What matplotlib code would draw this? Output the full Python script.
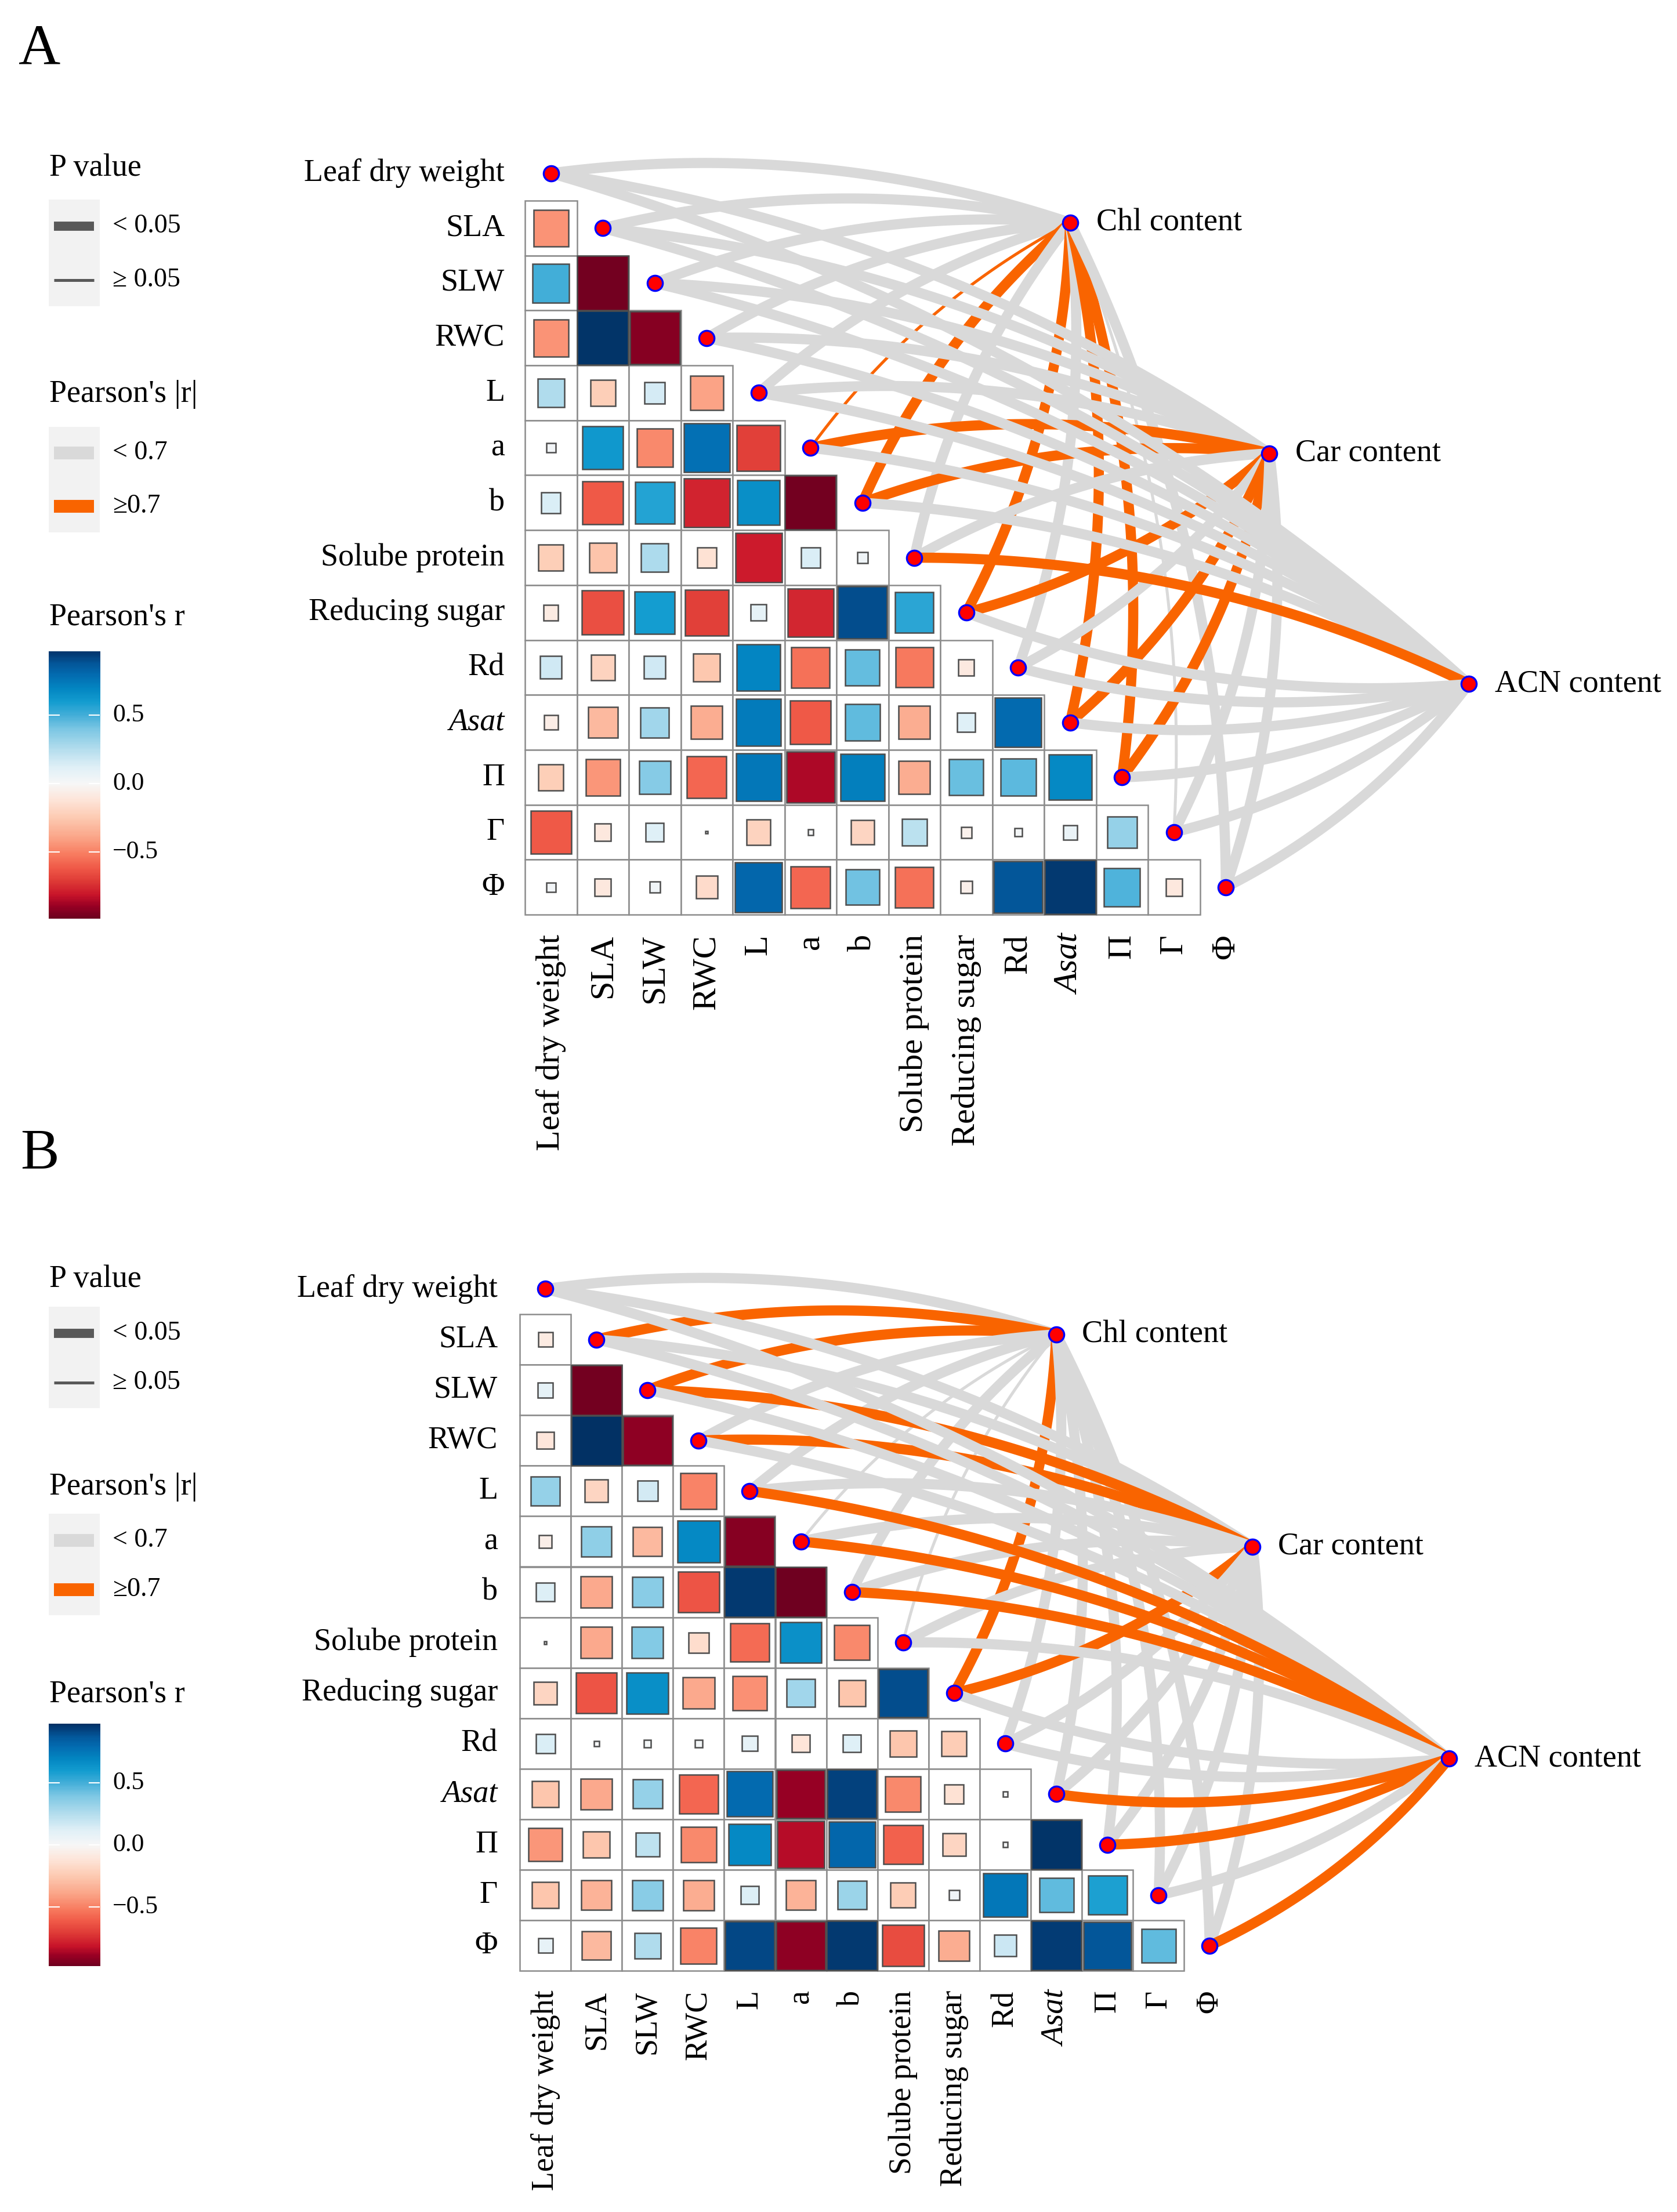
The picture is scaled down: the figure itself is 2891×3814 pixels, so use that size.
import numpy as np
import matplotlib
matplotlib.use("Agg")
import matplotlib.pyplot as plt
from matplotlib.colors import LinearSegmentedColormap, Normalize
from matplotlib.patches import Rectangle

plt.rcParams['font.family'] = ['Liberation Serif', 'DejaVu Serif']

# ---------------- data ----------------
variables = ["Leaf dry weight", "SLA", "SLW", "RWC", "L", "a", "b",
             "Solube protein", "Reducing sugar", "Rd", "Asat", "Π", "Γ", "Φ"]
italic_vars = ["Asat"]
env_nodes = ["Chl content", "Car content", "ACN content"]

# lower-triangle Pearson r (row i = variables[i], columns 0..i-1)
A_r = [
    [-0.45],
    [0.50, -0.97],
    [-0.45, 0.97, -0.93],
    [0.26, -0.23, 0.15, -0.40],
    [0.03, 0.62, -0.48, 0.78, -0.70],
    [0.14, -0.62, 0.57, -0.78, 0.66, -0.97],
    [-0.23, -0.28, 0.27, -0.14, -0.80, 0.14, 0.04],
    [-0.08, -0.65, 0.60, -0.70, 0.09, -0.77, 0.90, 0.55],
    [0.17, -0.21, 0.17, -0.26, 0.70, -0.55, 0.44, -0.53, -0.09],
    [-0.07, -0.32, 0.30, -0.36, 0.74, -0.62, 0.45, -0.36, 0.12, 0.80],
    [-0.23, -0.44, 0.37, -0.58, 0.75, -0.86, 0.72, -0.36, 0.43, 0.46, 0.68],
    [-0.62, -0.10, 0.12, 0.002, -0.21, 0.01, -0.20, 0.23, -0.04, 0.02, 0.07, 0.33],
    [0.03, -0.10, 0.04, -0.17, 0.82, -0.58, 0.42, -0.55, -0.05, 0.88, 0.96, 0.48, -0.10],
]
B_r = [
    [-0.08],
    [0.09, -0.97],
    [-0.11, 0.98, -0.92],
    [0.33, -0.20, 0.16, -0.50],
    [-0.06, 0.35, -0.32, 0.68, -0.93],
    [0.13, -0.38, 0.36, -0.64, 0.96, -0.98],
    [0.003, -0.38, 0.38, -0.16, -0.57, 0.65, -0.48],
    [-0.20, -0.64, 0.66, -0.38, -0.46, 0.30, -0.27, 0.90],
    [0.14, 0.01, 0.02, 0.02, 0.09, -0.12, 0.12, -0.27, -0.24],
    [-0.27, -0.38, 0.33, -0.58, 0.80, -0.90, 0.93, -0.48, -0.14, 0.01],
    [-0.44, -0.27, 0.22, -0.48, 0.68, -0.85, 0.82, -0.60, -0.20, 0.01, 0.97],
    [-0.27, -0.34, 0.36, -0.36, 0.13, -0.34, 0.32, -0.24, 0.04, 0.75, 0.45, 0.58],
    [0.08, -0.32, 0.26, -0.50, 0.92, -0.92, 0.96, -0.66, -0.36, 0.18, 0.95, 0.88, 0.45],
]

# links env -> variable : |r| >= 0.7 (1) or < 0.7 (0); p < 0.05 (1) or >= 0.05 (0)
A_chl_strong = [0, 0, 0, 0, 0, 1, 1, 0, 1, 0, 1, 1, 0, 0]
A_car_strong = [0, 0, 0, 0, 0, 1, 1, 0, 1, 0, 1, 1, 0, 0]
A_acn_strong = [0, 0, 0, 0, 0, 0, 0, 1, 0, 0, 0, 0, 0, 0]
A_chl_sig = [1, 1, 1, 1, 1, 0, 1, 1, 1, 1, 1, 1, 0, 1]
A_car_sig = [1] * 14
A_acn_sig = [1] * 14

B_chl_strong = [0, 1, 1, 0, 0, 0, 0, 0, 1, 0, 0, 0, 0, 0]
B_car_strong = [0, 0, 1, 1, 0, 0, 0, 0, 1, 0, 0, 0, 0, 0]
B_acn_strong = [0, 0, 0, 0, 1, 1, 1, 0, 0, 0, 1, 1, 0, 1]
B_chl_sig = [1, 1, 1, 1, 1, 0, 1, 0, 1, 1, 1, 1, 1, 1]
B_car_sig = [1] * 14
B_acn_sig = [1] * 14

p_labels = ["< 0.05", "≥ 0.05"]
r_labels = ["< 0.7", "≥0.7"]
cbar_ticks = [-0.5, 0.0, 0.5]
cbar_ticklabels = ["−0.5", "0.0", "0.5"]

# ---------------- style ----------------
W, H = 2891, 3814
DPI = 300
fig = plt.figure(figsize=(W / DPI, H / DPI), dpi=DPI)

cmap_nodes = [(-1.0, '#67001F'), (-0.9, '#990024'), (-0.82, '#C8142A'),
              (-0.72, '#DE3A36'), (-0.62, '#F05A48'), (-0.52, '#F87C60'),
              (-0.4, '#FBA487'), (-0.25, '#FDCBB3'), (-0.12, '#FEE5D9'),
              (0.0, '#F7F7F7'), (0.12, '#E0F0F7'), (0.25, '#B5DEEE'),
              (0.4, '#7CC7E4'), (0.5, '#45AFD9'), (0.6, '#149DD0'),
              (0.7, '#0386C2'), (0.8, '#036BB0'), (0.88, '#03579A'),
              (0.95, '#033C76'), (1.0, '#022C5C')]
cmap = LinearSegmentedColormap.from_list(
    "rb", [((v + 1) / 2, c) for v, c in cmap_nodes])
norm = Normalize(-1, 1)

GREY = '#D9D9D9'
ORANGE = '#F96400'
THICK, THIN = 4.2, 1.2


def fig_rect(left, top, right, bottom):
    return [left / W, 1 - bottom / H, (right - left) / W, (bottom - top) / H]


def bezier(p0, p1, side, cw, ch, k=0.115, npts=80):
    P0 = np.array([p0[0] * cw, p0[1] * ch])
    P1 = np.array([p1[0] * cw, p1[1] * ch])
    v = P1 - P0
    L = np.hypot(v[0], v[1])
    nr = np.array([-v[1], v[0]]) / L
    C = (P0 + P1) / 2 + side * k * L * nr
    t = np.linspace(0, 1, npts)[:, None]
    B = (1 - t) ** 2 * P0 + 2 * (1 - t) * t * C + t ** 2 * P1
    return B[:, 0] / cw, B[:, 1] / ch


env_pos = [(10.0, 0.9), (13.84, 5.1), (17.68, 9.3)]


def draw_panel(r_rows, strong, sig, lay):
    cw, ch, x0, y0 = lay['cw'], lay['ch'], lay['x0'], lay['y0']
    xmin, xmax, ymin, ymax = -1, 19.5, -1, 14
    ax = fig.add_axes(fig_rect(x0 + xmin * cw, y0 + ymin * ch,
                               x0 + xmax * cw, y0 + ymax * ch))
    ax.set_xlim(xmin, xmax)
    ax.set_ylim(ymax, ymin)
    ax.axis('off')
    n = len(variables)
    for i in range(1, n):
        for j in range(i):
            ax.add_patch(Rectangle((j - 0.5, i - 0.5), 1, 1, facecolor='white',
                                   edgecolor='#8C8C8C', lw=0.6, zorder=1))
    for i, row in enumerate(r_rows, start=1):
        for j, r in enumerate(row):
            s = np.sqrt(abs(r))
            ax.add_patch(Rectangle((j - s / 2, i - s / 2), s, s,
                                   facecolor=cmap(norm(r)), edgecolor='#4D4D4D',
                                   lw=0.6, zorder=2))
    for i, v in enumerate(variables):
        st = 'italic' if v in italic_vars else 'normal'
        ax.text(lay['rowlab_x'], i, v, ha='right', va='center', fontsize=13,
                fontstyle=st)
        ax.text(i, lay['collab_y'], v, ha='center', va='top', rotation=90,
                fontsize=lay['collab_fs'], fontstyle=st)
    z = 3
    for e, (ex, ey) in enumerate(env_pos):
        for kk in range(n):
            side = 1 if kk <= 7 else -1
            xs, ys = bezier((ex, ey), (kk, kk), side, cw, ch)
            col = ORANGE if strong[e][kk] else GREY
            lw = THICK if sig[e][kk] else THIN
            ax.plot(xs, ys, color=col, lw=lw, solid_capstyle='butt',
                    zorder=z, clip_on=False)
            z += 0.01
    dx = [kk for kk in range(n)]
    ax.plot(dx, dx, 'o', ms=6.3, mfc='#FF0000', mec='#0000FF', mew=0.8,
            zorder=10, clip_on=False)
    ax.plot([p[0] for p in env_pos], [p[1] for p in env_pos], 'o', ms=6.3,
            mfc='#FF0000', mec='#0000FF', mew=0.8, zorder=10, clip_on=False)
    for name, (ex, ey) in zip(env_nodes, env_pos):
        ax.text(ex + 0.5, ey, name, ha='left', va='center', fontsize=13,
                zorder=11)


layA = dict(cw=89.5, ch=94.7, x0=949.75, y0=298.65, rowlab_x=-0.89,
            collab_y=13.86, collab_fs=14)
layB = dict(cw=88.1, ch=87.1, x0=940.05, y0=2222.45, rowlab_x=-0.93,
            collab_y=13.88, collab_fs=13)

draw_panel(A_r, [A_chl_strong, A_car_strong, A_acn_strong],
           [A_chl_sig, A_car_sig, A_acn_sig], layA)
draw_panel(B_r, [B_chl_strong, B_car_strong, B_acn_strong],
           [B_chl_sig, B_car_sig, B_acn_sig], layB)

# ---------------- legends (pixel overlay) ----------------
ov = fig.add_axes([0, 0, 1, 1], zorder=-1)
ov.set_xlim(0, W)
ov.set_ylim(H, 0)
ov.axis('off')

ov.text(32, 111, "A", fontsize=24, ha='left', va='baseline')
ov.text(35, 2014, "B", fontsize=24, ha='left', va='baseline')

legA = dict(p_t=290, p_box=(344, 528), p_y=(390, 483),
            r_t=680, r_box=(736, 918), r_y=(781, 873),
            c_t=1064, bar=(1123, 1584), lim=(-0.987, 0.966))
legB = dict(p_t=2206, p_box=(2253, 2428), p_y=(2299, 2384),
            r_t=2564, r_box=(2610, 2785), r_y=(2656, 2741),
            c_t=2921, bar=(2972, 3390), lim=(-0.977, 0.977))

for lg in (legA, legB):
    ov.text(85, lg['p_t'], "P value", fontsize=13, ha='left', va='center')
    ov.add_patch(Rectangle((84, lg['p_box'][0]), 88, lg['p_box'][1] - lg['p_box'][0],
                           facecolor='#F2F2F2', edgecolor='none'))
    ov.plot([93, 162], [lg['p_y'][0]] * 2, color='#595959', lw=3.8, solid_capstyle='butt')
    ov.plot([93, 162], [lg['p_y'][1]] * 2, color='#595959', lw=1.2, solid_capstyle='butt')
    for yy, lab in zip(lg['p_y'], p_labels):
        ov.text(194, yy, lab, fontsize=11, ha='left', va='center')

    ov.text(85, lg['r_t'], "Pearson's |r|", fontsize=13, ha='left', va='center')
    ov.add_patch(Rectangle((84, lg['r_box'][0]), 88, lg['r_box'][1] - lg['r_box'][0],
                           facecolor='#F2F2F2', edgecolor='none'))
    ov.plot([93, 162], [lg['r_y'][0]] * 2, color=GREY, lw=5.3, solid_capstyle='butt')
    ov.plot([93, 162], [lg['r_y'][1]] * 2, color=ORANGE, lw=5.3, solid_capstyle='butt')
    for yy, lab in zip(lg['r_y'], r_labels):
        ov.text(194, yy, lab, fontsize=11, ha='left', va='center')

    ov.text(85, lg['c_t'], "Pearson's r", fontsize=13, ha='left', va='center')
    vmin, vmax = lg['lim']
    cax = fig.add_axes(fig_rect(84, lg['bar'][0], 172, lg['bar'][1]))
    grad = np.linspace(vmax, vmin, 300)[:, None]
    cax.imshow(grad, aspect='auto', cmap=cmap, norm=norm,
               extent=[0, 1, vmin, vmax], origin='upper')
    cax.set_xlim(0, 1)
    cax.set_ylim(vmin, vmax)
    cax.axis('off')
    for t, tl in zip(cbar_ticks, cbar_ticklabels):
        cax.plot([0, 0.2], [t, t], color='white', lw=0.5)
        cax.plot([0.8, 1], [t, t], color='white', lw=0.5)
        cax.text(1.25, t, tl, fontsize=10.5, ha='left', va='center',
                 transform=cax.transData, clip_on=False)

fig.savefig("out.png", dpi=DPI)
